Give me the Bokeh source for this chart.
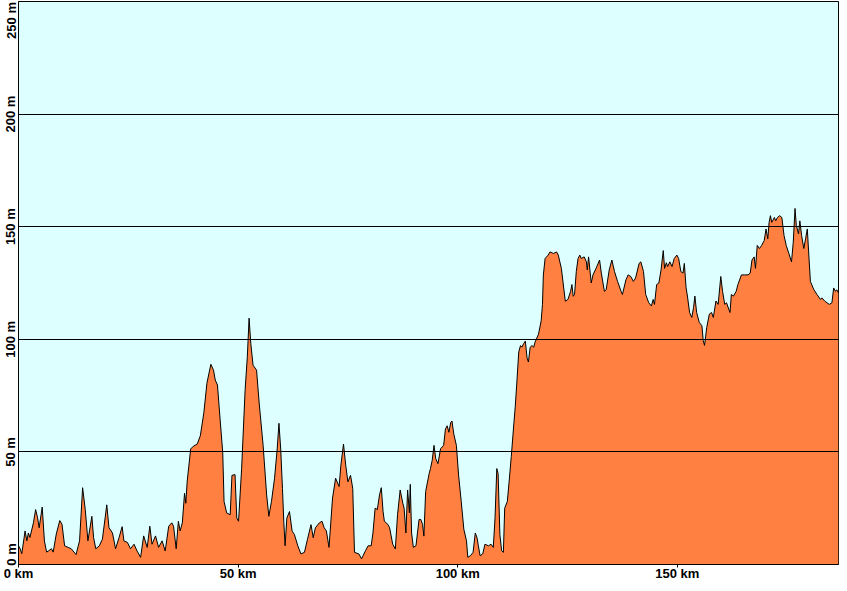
from bokeh.plotting import figure
from bokeh.models import FixedTicker, Range1d
from bokeh.embed import file_html
from bokeh.resources import INLINE

# ---- data ----
distance_km = [
    0.0, 0.4, 0.75, 1.5, 1.9, 2.25, 2.6, 3.4, 3.9, 4.35, 4.7, 5.4, 5.9, 6.4, 6.8, 7.5, 7.9, 8.6, 9.4, 9.9,
    10.5, 11.3, 12.0, 13.1, 13.9, 14.6, 15.2, 15.8, 16.7, 17.1, 17.6, 18.4, 19.1, 20.1, 20.6, 21.4, 22.1, 22.9, 23.6, 24.0,
    24.8, 25.5, 26.3, 27.0, 27.8, 28.5, 29.3, 29.9, 30.4, 31.2, 31.9, 32.7, 33.4, 34.2, 34.9, 35.3, 35.9, 36.4, 36.8, 37.3,
    37.8, 38.1, 38.4, 39.2, 39.8, 40.7, 41.4, 42.2, 42.9, 43.8, 44.4, 44.8, 45.3, 45.9, 46.5, 46.8, 47.4, 48.2, 48.6, 49.3,
    49.7, 50.1, 50.8, 51.6, 52.1, 52.5, 52.9, 53.4, 54.2, 54.8, 55.7, 56.5, 57.0, 57.6, 58.3, 58.9, 59.3, 59.7, 60.1, 60.4,
    60.7, 61.1, 61.7, 62.3, 62.8, 63.6, 64.3, 65.1, 65.8, 66.6, 67.1, 67.6, 68.5, 69.1, 69.6, 70.1, 70.7, 71.5, 72.2, 73.0,
    73.4, 74.0, 74.5, 75.0, 75.6, 76.1, 76.5, 77.5, 78.1, 79.0, 79.6, 80.3, 80.7, 81.2, 81.7, 82.2, 82.6, 83.0, 83.3, 84.1,
    84.5, 85.2, 85.8, 86.3, 86.9, 87.5, 87.8, 88.2, 88.6, 89.0, 89.2, 89.5, 89.9, 90.5, 91.2, 91.6, 92.0, 92.3, 92.7, 93.5,
    93.8, 94.2, 94.6, 95.0, 95.5, 96.1, 96.8, 97.2, 97.6, 98.0, 98.4, 98.7, 99.1, 99.7, 100.2, 100.8, 101.4, 102.0, 102.3, 102.9,
    103.5, 104.0, 104.4, 104.7, 105.1, 105.7, 106.2, 107.0, 107.6, 108.1, 108.5, 108.9, 109.2, 109.6, 110.0, 110.4, 110.7, 111.3, 111.7, 112.2,
    112.8, 113.1, 113.5, 113.9, 114.3, 114.6, 115.0, 115.4, 115.8, 116.1, 116.5, 116.9, 117.3, 117.6, 118.4, 119.0, 119.3, 119.5, 119.9, 120.6,
    121.0, 121.8, 122.5, 122.9, 123.6, 124.0, 124.5, 125.1, 125.7, 126.0, 126.3, 126.6, 127.0, 127.4, 127.8, 128.1, 128.8, 129.3, 129.5, 129.8,
    130.4, 130.8, 131.5, 132.3, 132.7, 133.4, 133.8, 134.5, 135.1, 135.7, 136.4, 137.2, 137.5, 138.3, 138.8, 139.4, 140.0, 140.5, 141.3, 141.7,
    142.3, 142.8, 143.5, 144.1, 144.5, 144.8, 145.3, 145.8, 146.3, 146.8, 147.1, 147.5, 147.8, 148.3, 148.8, 149.3, 149.9, 150.3, 150.8, 151.3,
    151.6, 152.0, 152.3, 152.8, 153.3, 153.7, 154.0, 154.4, 155.0, 155.6, 155.9, 156.2, 156.7, 157.3, 157.8, 158.2, 158.8, 159.3, 159.9, 160.3,
    160.8, 161.2, 162.0, 162.3, 162.8, 163.4, 163.8, 164.6, 165.3, 166.1, 166.6, 167.0, 167.5, 167.8, 168.2, 168.7, 169.2, 169.8, 170.2, 170.6,
    170.9, 171.2, 171.5, 172.1, 172.4, 172.8, 173.3, 173.8, 174.3, 174.8, 175.4, 176.0, 176.4, 176.8, 177.1, 177.6, 177.9, 178.3, 178.8, 179.2,
    179.6, 179.9, 180.3, 181.1, 181.8, 182.6, 182.9, 183.6, 184.1, 184.6, 185.2, 185.6, 186.0, 186.3, 186.7,
]
elevation_m = [
    8.3, 6.9, 4.8, 14.9, 10.5, 14.0, 12.0, 18.5, 24.4, 20.7, 16.3, 25.5, 10.5, 5.5, 6.0, 7.0, 5.5, 13.5, 19.5, 17.9,
    8.3, 7.6, 7.0, 4.4, 10.5, 34.1, 24.4, 10.5, 21.4, 11.9, 7.0, 8.3, 11.2, 26.5, 16.3, 14.0, 7.0, 12.0, 16.8, 10.5,
    9.8, 7.0, 9.0, 6.0, 3.2, 12.7, 7.6, 17.0, 9.0, 12.7, 7.6, 10.5, 6.0, 17.0, 18.5, 17.0, 7.0, 19.2, 14.9, 18.5,
    31.6, 27.2, 36.7, 51.3, 52.5, 53.5, 57.2, 67.4, 80.5, 88.9, 86.3, 81.9, 79.7, 64.5, 49.8, 28.0, 22.9, 22.1, 39.6, 39.9,
    20.6, 19.2, 42.5, 77.6, 92.2, 109.4, 98.0, 88.5, 86.3, 71.7, 52.8, 30.9, 21.4, 28.0, 38.3, 51.3, 62.7, 51.3, 33.8, 19.2,
    8.3, 20.6, 23.5, 14.8, 13.4, 8.3, 4.7, 5.4, 11.2, 17.7, 11.9, 16.3, 18.5, 19.2, 16.3, 14.9, 7.6, 29.5, 38.3, 34.6,
    44.1, 53.5, 44.1, 36.7, 39.6, 33.8, 5.4, 4.7, 2.5, 6.1, 8.3, 8.3, 14.0, 25.0, 24.4, 30.9, 34.1, 23.6, 19.2, 17.8,
    16.3, 9.0, 6.9, 22.1, 33.1, 27.2, 25.0, 14.0, 33.1, 22.9, 35.6, 14.0, 7.6, 8.3, 20.0, 20.0, 17.8, 12.6, 32.4, 40.4,
    42.6, 46.3, 52.9, 47.0, 44.8, 51.4, 52.9, 60.1, 61.6, 58.7, 63.0, 63.7, 58.0, 52.9, 39.7, 28.0, 15.6, 10.5, 3.2, 3.9,
    5.4, 14.0, 11.9, 8.3, 3.9, 4.7, 9.0, 8.3, 9.0, 7.6, 20.7, 42.6, 40.4, 13.4, 6.1, 5.4, 25.0, 28.0, 36.7, 48.0,
    63.0, 70.0, 82.0, 94.4, 97.2, 96.5, 98.0, 99.2, 91.6, 89.9, 96.5, 97.2, 96.5, 98.7, 102.3, 108.2, 115.5, 128.6, 135.9, 137.4,
    138.8, 138.1, 138.8, 137.4, 131.5, 125.0, 116.9, 117.7, 121.3, 124.3, 119.1, 119.9, 130.1, 135.9, 137.4, 135.9, 136.6, 134.4, 130.8, 136.6,
    125.0, 128.6, 131.5, 135.2, 129.4, 121.3, 122.0, 130.8, 135.2, 130.1, 125.7, 121.3, 119.9, 126.4, 128.6, 127.9, 125.7, 127.2, 133.7, 134.4,
    130.1, 119.9, 116.2, 114.8, 117.7, 115.5, 124.3, 125.0, 130.8, 139.4, 131.5, 134.0, 132.3, 134.4, 132.3, 135.9, 137.4, 135.9, 130.1, 129.4,
    133.7, 122.8, 119.2, 111.9, 109.7, 114.1, 119.2, 111.9, 107.5, 106.0, 99.4, 97.3, 105.3, 111.2, 111.9, 109.7, 117.0, 115.5, 127.9, 121.3,
    115.5, 116.2, 111.9, 119.9, 119.2, 121.3, 124.3, 128.6, 128.6, 128.6, 129.4, 135.2, 136.6, 131.5, 141.7, 140.3, 141.7, 143.9, 149.0, 144.6,
    151.9, 154.9, 151.9, 154.1, 152.6, 154.1, 154.9, 154.1, 146.1, 141.7, 138.1, 134.4, 143.1, 158.1, 150.5, 146.8, 152.6, 146.1, 140.3, 144.6,
    149.0, 138.8, 125.7, 122.0, 119.9, 117.7, 118.4, 116.9, 116.2, 115.5, 116.2, 122.8, 121.3, 122.0, 120.6,
]

x_ticks = [0, 50, 100, 150]
x_tick_labels = ["0 km", "50 km", "100 km", "150 km"]
y_ticks = [0, 50, 100, 150, 200, 250]
y_tick_labels = ["0 m", "50 m", "100 m", "150 m", "200 m", "250 m"]
grid_ticks = [50, 100, 150, 200]

X_MAX = 186.7
Y_MAX = 250

FONT = "Liberation Sans"
FONT_SIZE = "13px"

W, H = 839, 583
BL, BR, BT, BB = 16, 1, 1, 17
FRAME_H_EST = 563.0  # approx frame height in px, used to keep edge labels inside

p = figure(
    width=W, height=H,
    output_backend="svg", toolbar_location=None,
    x_range=Range1d(0, X_MAX), y_range=Range1d(0, Y_MAX),
    min_border_left=BL, min_border_right=BR, min_border_top=BT, min_border_bottom=BB,
    background_fill_color="#DDFFFF", border_fill_color="white",
    outline_line_color="black", outline_line_width=1,
)

p.varea(x=distance_km, y1=0, y2=elevation_m, fill_color="#FF8040", fill_alpha=1.0)
p.line(distance_km, elevation_m, line_color="black", line_width=1)

# grid
p.xgrid.visible = False
p.ygrid.ticker = FixedTicker(ticks=grid_ticks)
p.ygrid.grid_line_color = "black"
p.ygrid.grid_line_alpha = 1.0
p.ygrid.grid_line_width = 1
p.ygrid.level = "overlay"

# x axis
xa = p.xaxis[0]
xa.ticker = FixedTicker(ticks=x_ticks)
xa.major_label_overrides = {t: s for t, s in zip(x_ticks, x_tick_labels)}
xa.major_tick_out = 3
xa.major_tick_in = 0
xa.minor_tick_out = 0
xa.minor_tick_in = 0
xa.major_label_standoff = -2
xa.axis_line_color = "black"
xa.major_tick_line_color = "black"
xa.major_label_text_font = FONT
xa.major_label_text_font_style = "bold"
xa.major_label_text_font_size = FONT_SIZE
xa.major_label_text_color = "black"

# y axis: the labels at the two edges are nudged inward (as in the reference)
px_per_m = FRAME_H_EST / Y_MAX
edge_nudge_px = {0: 10, 250: -19}
label_pos = [t + edge_nudge_px.get(t, 0) / px_per_m for t in y_ticks]
ya = p.yaxis[0]
ya.ticker = FixedTicker(ticks=label_pos)
ya.major_label_overrides = {pos: s for pos, s in zip(label_pos, y_tick_labels)}
ya.major_label_orientation = "vertical"
ya.major_tick_out = 0
ya.major_tick_in = 0
ya.minor_tick_out = 0
ya.minor_tick_in = 0
ya.major_label_standoff = 0
ya.axis_line_color = "black"
ya.major_label_text_font = FONT
ya.major_label_text_font_style = "bold"
ya.major_label_text_font_size = FONT_SIZE
ya.major_label_text_color = "black"

open("out.html", "w").write(file_html(p, INLINE))
